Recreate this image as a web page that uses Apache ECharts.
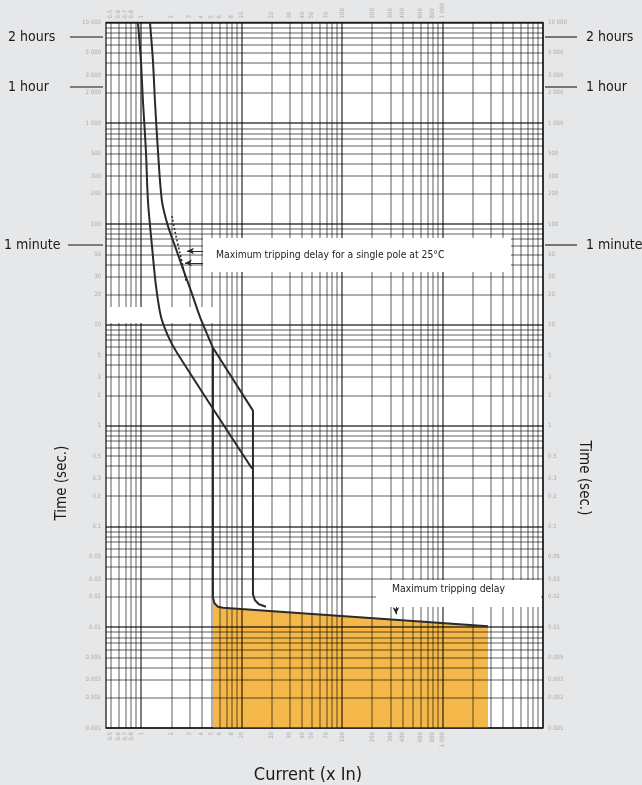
<!DOCTYPE html>
<html>
<head>
<meta charset="utf-8">
<script src="https://cdn.jsdelivr.net/npm/echarts@6/dist/echarts.min.js"></script>
<style>
  html, body { margin: 0; padding: 0; background: #e6e7e9; }
  #chart { width: 642px; height: 785px; }
</style>
</head>
<body>
<div id="chart"></div>
<script>
// Tick labels printed along the current and time axes
const xTickValues = [0.5, 0.6, 0.7, 0.8, 1, 2, 3, 4, 5, 6, 8, 10, 20, 30, 40, 50, 70, 100, 200, 300, 400, 600, 800, 1000];
const yTickValues = [10000, 5000, 3000, 2000, 1000, 500, 300, 200, 100, 50, 30, 20, 10, 5, 3, 2, 1,
                     0.5, 0.3, 0.2, 0.1, 0.05, 0.03, 0.02, 0.01, 0.005, 0.003, 0.002, 0.001];

// Log-paper grid: multipliers inside each decade, and the decades covered
const gridSteps = [1, 2, 3, 4, 5, 6, 7, 8, 9];
const xDecades = [0.1, 1, 10, 100, 1000, 10000];
const yDecades = [0.001, 0.01, 0.1, 1, 10, 100, 1000, 10000];

// Tripping characteristic, points as [current (x In), time (s)]
const lowerCurve = [[0.929, 10000], [0.995, 4111], [1.042, 1651], [1.116, 528], [1.169, 169],
                    [1.281, 60.6], [1.404, 24.3], [1.575, 12.0], [1.848, 7.78], [2.272, 5.28], [12.68, 0.375]];
const upperThermal = [[1.224, 10000], [1.311, 4111], [1.372, 1651], [1.470, 528], [1.611, 169],
                      [1.848, 95.5], [2.170, 60.6], [2.607, 35.9], [3.131, 21.7], [3.848, 12.0],
                      [4.519, 8.15], [5.184, 5.92]];
const upperMagnetic = [[5.184, 5.92], [12.97, 1.408], [12.97, 0.0212], [13.58, 0.0185],
                       [14.88, 0.0169], [17.47, 0.01596]];
const magneticCurve = [[5.184, 5.92], [5.184, 0.0198], [5.366, 0.01729], [5.815, 0.01596],
                       [6.521, 0.0156], [2835, 0.01023]];
const trippingZone = [[5.184, 0.0198], [5.366, 0.01729], [5.815, 0.01596], [6.521, 0.0156], [2835, 0.01023]];
const singlePoleCurve = [[2.026, 120], [2.221, 76.1], [2.433, 51.6], [2.607, 38.4], [2.792, 27.3]];

// Pointer arrows: [from, to] in [current, time]
const singlePoleArrows = [[[4.218, 54.0], [2.857, 54.0]], [[4.416, 41.1], [2.729, 41.1]]];
const bandArrows = [[[1.169, 12.0], [1.539, 12.0]], [[5.553, 12.0], [3.938, 12.0]]];
const delayArrow = [[343.8, 0.0198], [343.8, 0.01345]];

const FONT = "'Liberation Sans Narrow', 'DejaVu Sans Condensed', 'Noto Sans', sans-serif";
const L = Math.log10;
const toLog = arr => arr.map(p => [L(p[0]), L(p[1])]);
const X_MIN = -0.35, X_MAX = 4, Y_MIN = -3, Y_MAX = 4;

function nearest(list, logValue) {
  let best = list[0];
  for (const v of list) if (Math.abs(L(v) - logValue) < Math.abs(L(best) - logValue)) best = v;
  return best;
}
function fmtNumber(v) {
  if (v >= 1000) return String(v).replace(/\B(?=(\d{3})+(?!\d))/g, ' ');
  return String(v);
}

const xGridValues = [];
xDecades.forEach(d => gridSteps.forEach(k => {
  const v = k * d;
  if (L(v) >= X_MIN - 1e-9 && L(v) <= X_MAX + 1e-9) xGridValues.push(v);
}));
const yGridValues = [];
yDecades.forEach(d => gridSteps.forEach(k => {
  const v = k * d;
  if (L(v) >= Y_MIN - 1e-9 && L(v) <= Y_MAX + 1e-9) yGridValues.push(v);
}));

const minorGrid = { color: 'rgba(0,0,0,0.42)', width: 1.5, type: 'solid' };
const majorGrid = { color: 'rgba(0,0,0,0.56)', width: 1.8, type: 'solid' };
const isDecade = v => Math.abs(L(v) - Math.round(L(v))) < 1e-9;

const gridLines = [
  ...xGridValues.map(v => ({ xAxis: L(v), lineStyle: isDecade(v) ? majorGrid : minorGrid })),
  ...yGridValues.map(v => ({ yAxis: L(v), lineStyle: isDecade(v) ? majorGrid : minorGrid }))
];

const tickLabel = { fontSize: 6, color: '#ababab', fontFamily: FONT };

function xAxisAt(position) {
  return {
    type: 'value', min: X_MIN, max: X_MAX, position,
    axisLine: { show: false }, axisTick: { show: false }, splitLine: { show: false },
    axisLabel: Object.assign({
      customValues: xTickValues.map(L),
      formatter: v => fmtNumber(nearest(xTickValues, v)),
      rotate: 90, margin: 4, showMinLabel: true, showMaxLabel: true
    }, tickLabel)
  };
}
function yAxisAt(position) {
  return {
    type: 'value', min: Y_MIN, max: Y_MAX, position,
    axisLine: { show: false }, axisTick: { show: false }, splitLine: { show: false },
    axisLabel: Object.assign({
      customValues: yTickValues.map(L),
      formatter: v => fmtNumber(nearest(yTickValues, v)),
      margin: 5, showMinLabel: true, showMaxLabel: true
    }, tickLabel)
  };
}

function arrowPairs(pairs) {
  return pairs.map(([a, b]) => [{ coord: [L(a[0]), L(a[1])] }, { coord: [L(b[0]), L(b[1])] }]);
}

const curveStyle = { color: '#2a2a2a', width: 2 };
const NOTE_FONT = `14px ${FONT}`;

function sideNote(text, y, leftTextX, leftLineFrom) {
  return [
    { type: 'line', z: 50, shape: { x1: leftLineFrom, y1: y, x2: 103, y2: y }, style: { stroke: '#5a5a5a', lineWidth: 1.6 } },
    { type: 'text', z: 50, x: leftTextX, y: y, style: { text, font: NOTE_FONT, fill: '#1a1a1a', verticalAlign: 'middle' } },
    { type: 'line', z: 50, shape: { x1: 545, y1: y, x2: 577, y2: y }, style: { stroke: '#5a5a5a', lineWidth: 1.6 } },
    { type: 'text', z: 50, x: 586, y: y, style: { text, font: NOTE_FONT, fill: '#1a1a1a', verticalAlign: 'middle' } }
  ];
}

const chart = echarts.init(document.getElementById('chart'));
chart.setOption({
  backgroundColor: '#e6e7e9',
  animation: false,
  grid: { left: 106, top: 21, width: 437, height: 707, show: true, backgroundColor: '#ffffff',
          borderColor: '#3c3c3c', borderWidth: 1.5 },
  xAxis: [xAxisAt('bottom'), xAxisAt('top')],
  yAxis: [yAxisAt('left'), yAxisAt('right')],
  series: [
    {
      name: 'Tripping zone', type: 'line', data: toLog(trippingZone), symbol: 'none', z: 2,
      lineStyle: { width: 0 }, areaStyle: { color: '#f4b84a', opacity: 1, origin: 'start' }
    },
    {
      name: 'Grid', type: 'line', data: [[X_MIN, Y_MIN]], symbol: 'none', z: 3,
      lineStyle: { width: 0 },
      markLine: { silent: true, symbol: ['none', 'none'], label: { show: false }, data: gridLines }
    },
    { name: 'Lower limit', type: 'line', data: toLog(lowerCurve), symbol: 'none', smooth: 0.3, z: 60, lineStyle: curveStyle },
    { name: 'Upper limit', type: 'line', data: toLog(upperThermal), symbol: 'none', smooth: 0.3, z: 60, lineStyle: curveStyle },
    { name: 'Upper limit (magnetic)', type: 'line', data: toLog(upperMagnetic), symbol: 'none', z: 60, lineStyle: curveStyle },
    { name: 'Instantaneous', type: 'line', data: toLog(magneticCurve), symbol: 'none', z: 60, lineStyle: curveStyle },
    {
      name: 'Single pole 25°C', type: 'line', data: toLog(singlePoleCurve), symbol: 'none', smooth: 0.3, z: 60,
      lineStyle: { color: '#2a2a2a', width: 1.5, type: [2, 2] }
    },
    {
      name: 'Pointers', type: 'line', data: [[X_MIN, Y_MIN]], symbol: 'none', z: 61, lineStyle: { width: 0 },
      markLine: {
        silent: true, symbol: ['none', 'arrow'], symbolSize: [5, 7], label: { show: false },
        lineStyle: { color: '#2a2a2a', width: 1, type: 'solid' },
        data: [...arrowPairs(singlePoleArrows), ...arrowPairs(bandArrows), ...arrowPairs([delayArrow])]
      }
    }
  ],
  graphic: [
    // White label panels laid over the grid
    { type: 'rect', z: 40, shape: { x: 107, y: 307, width: 110, height: 16 }, style: { fill: '#ffffff' } },
    { type: 'rect', z: 40, shape: { x: 203, y: 238, width: 308, height: 34 }, style: { fill: '#ffffff' } },
    { type: 'rect', z: 40, shape: { x: 376, y: 580, width: 165, height: 27 }, style: { fill: '#ffffff' } },
    { type: 'text', z: 45, x: 216, y: 255, style: { text: 'Maximum tripping delay for a single pole at 25°C',
        font: `10.3px ${FONT}`, fill: '#222', verticalAlign: 'middle' } },
    { type: 'text', z: 45, x: 392, y: 589, style: { text: 'Maximum tripping delay',
        font: `10.3px ${FONT}`, fill: '#222', verticalAlign: 'middle' } },
    // Time references beside the scale
    ...sideNote('2 hours', 37, 8, 70),
    ...sideNote('1 hour', 87, 8, 70),
    ...sideNote('1 minute', 245, 4, 68),
    // Axis titles
    { type: 'text', z: 50, x: 62, y: 483, rotation: Math.PI / 2,
      style: { text: 'Time (sec.)', font: `15px ${FONT}`, fill: '#1a1a1a', align: 'center', verticalAlign: 'middle' } },
    { type: 'text', z: 50, x: 584, y: 478, rotation: -Math.PI / 2,
      style: { text: 'Time (sec.)', font: `15px ${FONT}`, fill: '#1a1a1a', align: 'center', verticalAlign: 'middle' } },
    { type: 'text', z: 50, x: 308, y: 775,
      style: { text: 'Current (x In)', font: `18px ${FONT}`, fill: '#1a1a1a', align: 'center', verticalAlign: 'middle' } }
  ]
});
</script>
</body>
</html>
